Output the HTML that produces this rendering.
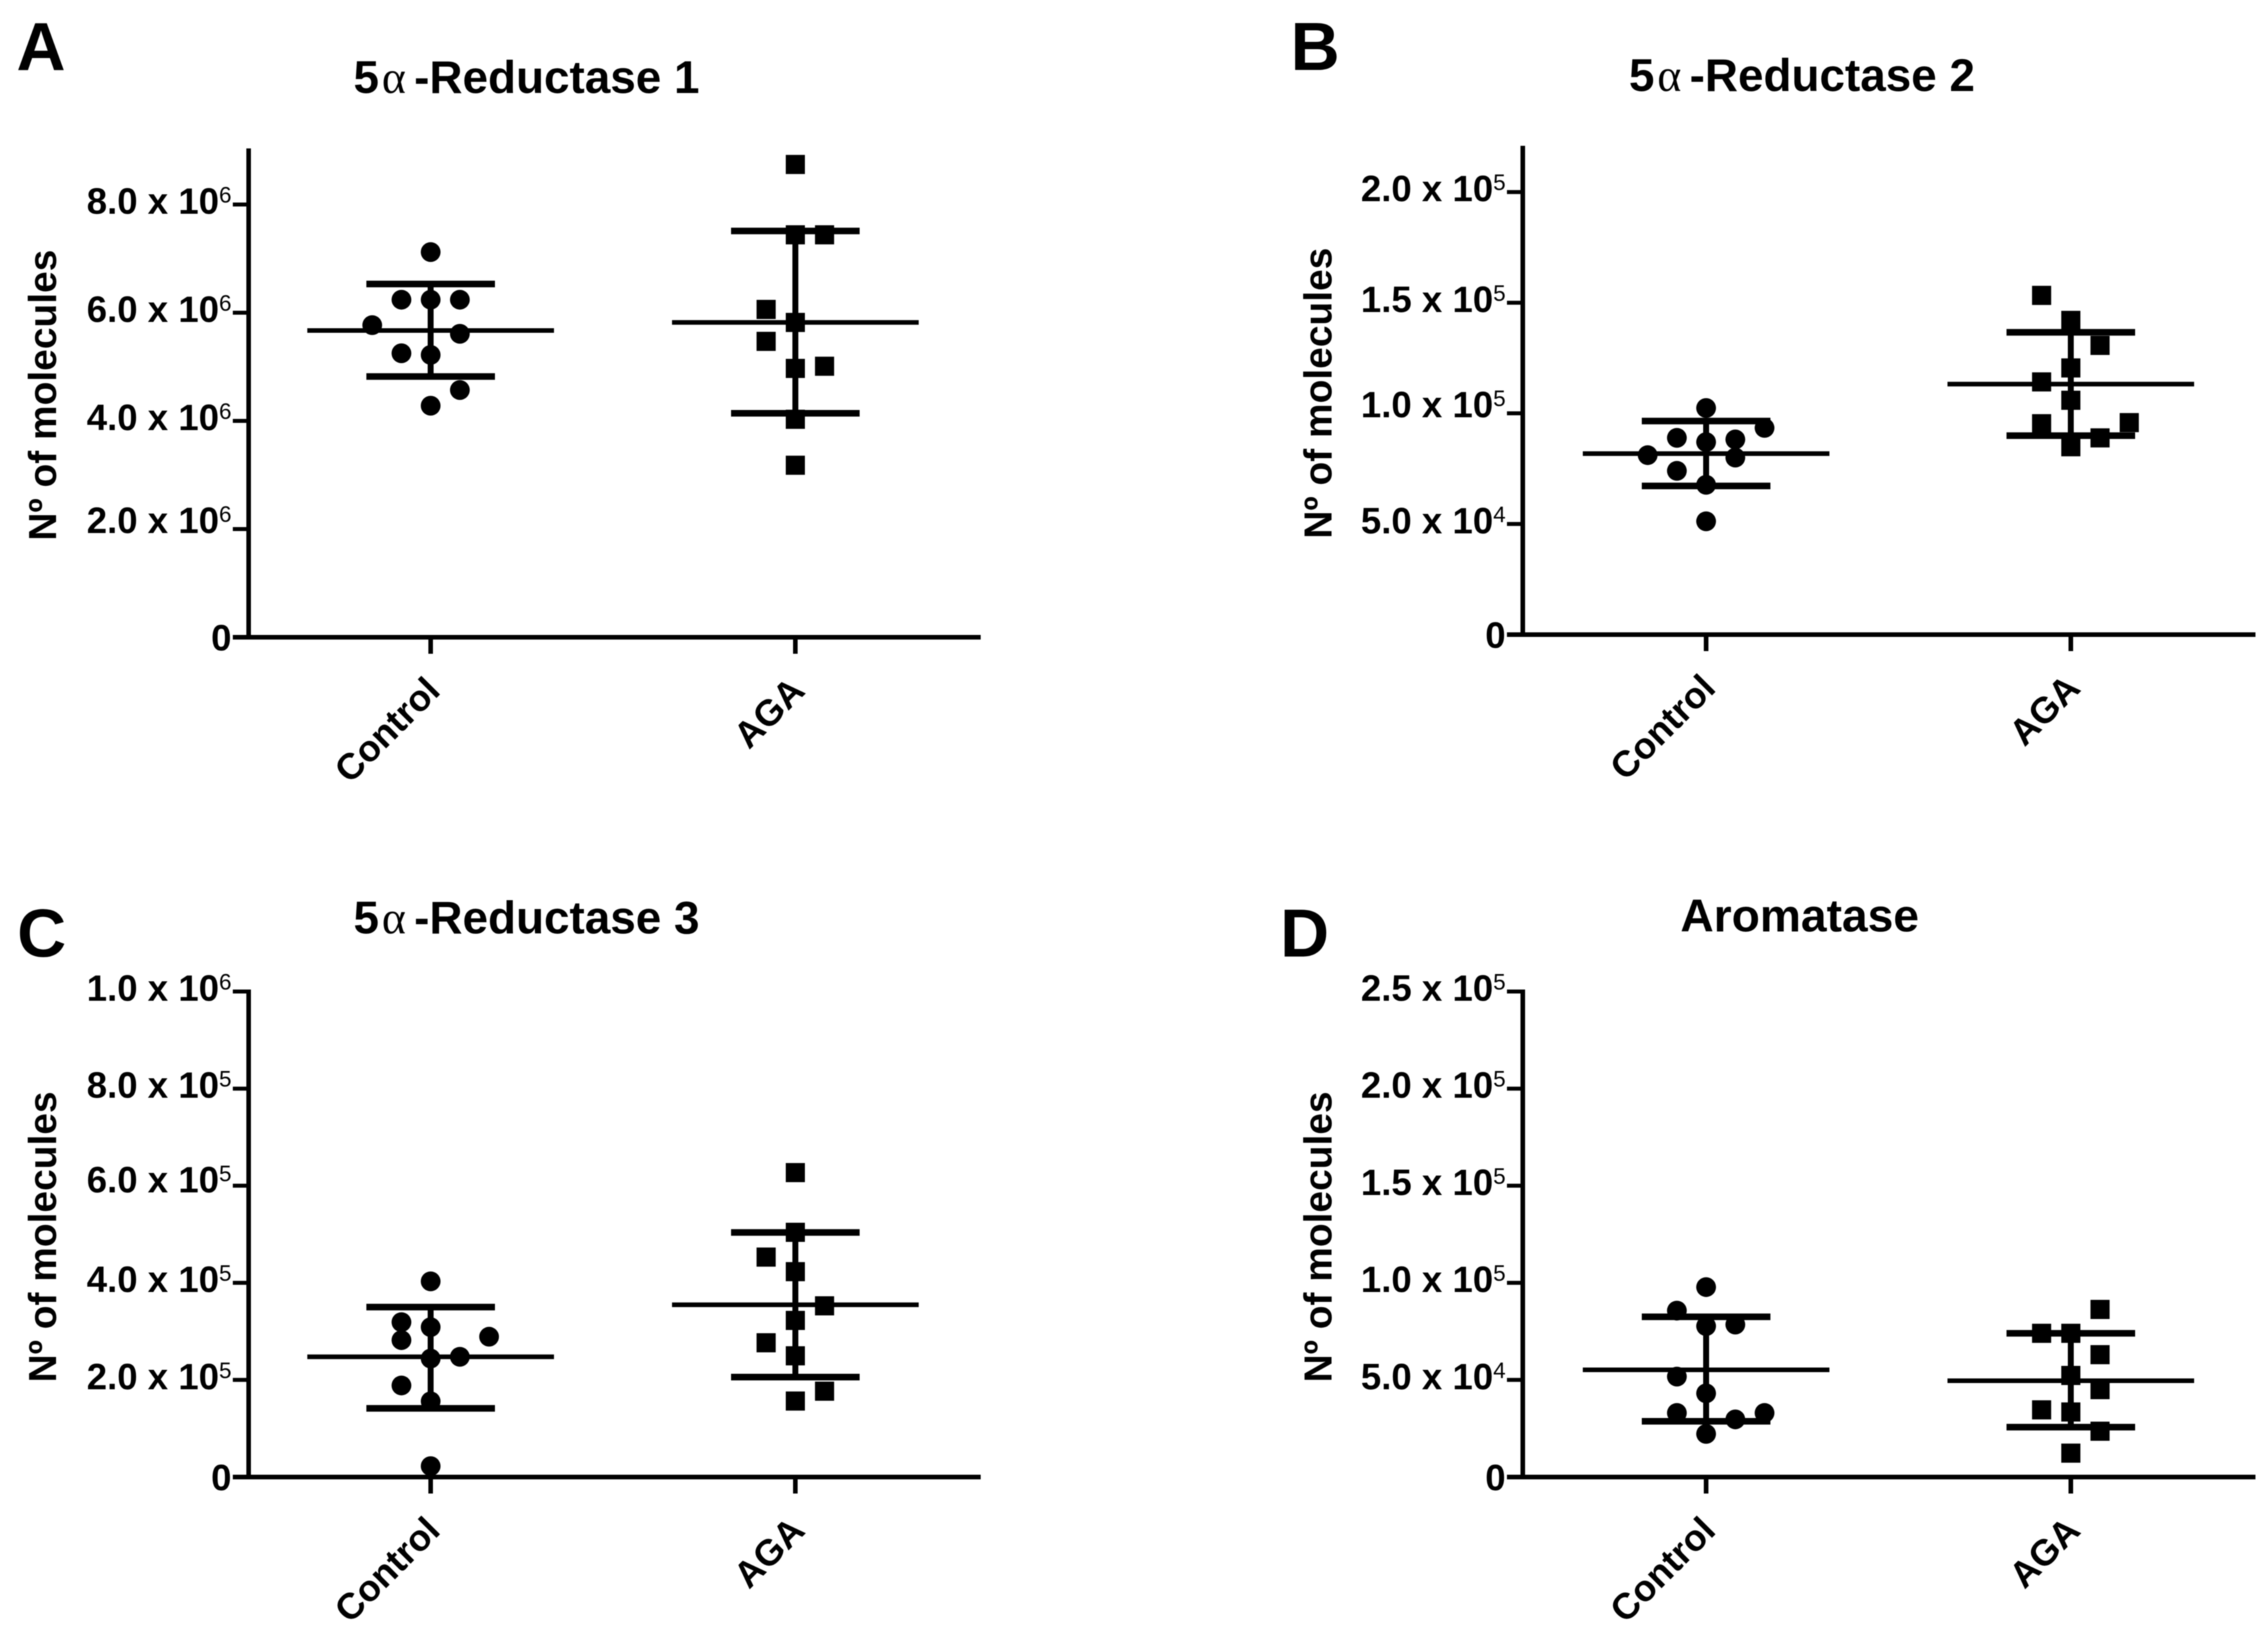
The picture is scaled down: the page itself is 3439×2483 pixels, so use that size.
<!DOCTYPE html>
<html lang="en">
<head>
<meta charset="utf-8">
<title>Enzyme molecule counts: Control vs AGA</title>
<style>
  html, body { margin: 0; padding: 0; background: #fff; }
  svg { display: block; filter: blur(0.9px); }
  text { font-family: "Liberation Sans", sans-serif; font-weight: bold; fill: #000; }
  .panel-letter { font-size: 103px; }
  .panel-title { font-size: 69.5px; }
  .alpha { font-family: "Liberation Serif", serif; font-weight: normal; }
  .y-title { font-size: 59px; }
</style>
</head>
<body>
<svg id="figure" xmlns="http://www.w3.org/2000/svg" width="3439" height="2483" viewBox="0 0 3439 2483">
  <rect width="3439" height="2483" fill="#fff"/>

  <text class="panel-letter" x="25" y="106">A</text>
  <text class="panel-letter" x="1957" y="106">B</text>
  <text class="panel-letter" x="26" y="1450">C</text>
  <text class="panel-letter" x="1941" y="1450">D</text>

  <text class="panel-title" y="141"><tspan x="536">5</tspan><tspan class="alpha" x="579">α</tspan><tspan x="628">-Reductase 1</tspan></text>
  <text class="panel-title" y="138"><tspan x="2470">5</tspan><tspan class="alpha" x="2513">α</tspan><tspan x="2562">-Reductase 2</tspan></text>
  <text class="panel-title" y="1415"><tspan x="536">5</tspan><tspan class="alpha" x="579">α</tspan><tspan x="628">-Reductase 3</tspan></text>
  <text class="panel-title" x="2548" y="1412" style="font-size:70px">Aromatase</text>

  <text class="y-title" text-anchor="middle" transform="translate(85 599) rotate(-90)">Nº of molecules</text>
  <text class="y-title" text-anchor="middle" transform="translate(2019 596) rotate(-90)">Nº of molecules</text>
  <text class="y-title" text-anchor="middle" transform="translate(85 1875) rotate(-90)">Nº of molecules</text>
  <text class="y-title" text-anchor="middle" transform="translate(2019 1875) rotate(-90)">Nº of molecules</text>
</svg>

<script>
// Shared categories
const categories = ["Control", "AGA"];

// Panel A: 5-alpha-Reductase 1
const aTicks = [0, 2e6, 4e6, 6e6, 8e6];
const aTickLabels = ["0", "2.0 x 10^6", "4.0 x 10^6", "6.0 x 10^6", "8.0 x 10^6"];
const aControlValues = [7.12e6, 6.24e6, 6.24e6, 6.24e6, 5.77e6, 5.61e6, 5.25e6, 5.22e6, 4.57e6, 4.28e6];
const aControlColumns = [0, -1, 0, 1, -2, 1, -1, 0, 1, 0];
const aControlSummary = [5.67e6, 6.53e6, 4.82e6];
const aAgaValues = [8.74e6, 7.44e6, 7.44e6, 6.06e6, 5.82e6, 5.47e6, 4.97e6, 5.01e6, 4.03e6, 3.18e6];
const aAgaColumns = [0, 0, 1, -1, 0, -1, 0, 1, 0, 0];
const aAgaSummary = [5.82e6, 7.51e6, 4.14e6];

// Panel B: 5-alpha-Reductase 2
const bTicks = [0, 5e4, 1e5, 1.5e5, 2e5];
const bTickLabels = ["0", "5.0 x 10^4", "1.0 x 10^5", "1.5 x 10^5", "2.0 x 10^5"];
const bControlValues = [102400, 93400, 88900, 88200, 87000, 81100, 80000, 74000, 67700, 51200];
const bControlColumns = [0, 2, -1, 1, 0, -2, 1, -1, 0, 0];
const bControlSummary = [81800, 96500, 67200];
const bAgaValues = [153300, 142000, 130700, 120500, 114200, 105900, 95300, 95800, 88900, 84900];
const bAgaColumns = [-1, 0, 1, 0, -1, 0, -1, 2, 1, 0];
const bAgaSummary = [113200, 136600, 89900];

// Panel C: 5-alpha-Reductase 3
const cTicks = [0, 2e5, 4e5, 6e5, 8e5, 1e6];
const cTickLabels = ["0", "2.0 x 10^5", "4.0 x 10^5", "6.0 x 10^5", "8.0 x 10^5", "1.0 x 10^6"];
const cControlValues = [403000, 319000, 308700, 282000, 289000, 247600, 244000, 188600, 156000, 22500];
const cControlColumns = [0, -1, 0, -1, 2, 1, 0, -1, 0, 0];
const cControlSummary = [247600, 350000, 141500];
const cAgaValues = [627000, 504000, 453000, 423000, 352600, 322600, 276500, 249700, 176800, 156500];
const cAgaColumns = [0, 0, -1, 0, 1, 0, -1, 0, 1, 0];
const cAgaSummary = [354800, 503800, 205800];

// Panel D: Aromatase
const dTicks = [0, 5e4, 1e5, 1.5e5, 2e5, 2.5e5];
const dTickLabels = ["0", "5.0 x 10^4", "1.0 x 10^5", "1.5 x 10^5", "2.0 x 10^5", "2.5 x 10^5"];
const dControlValues = [97800, 85700, 77700, 78500, 51700, 43100, 33000, 33000, 29700, 22200];
const dControlColumns = [0, -1, 0, 1, -1, 0, -1, 2, 1, 0];
const dControlSummary = [55200, 82500, 28700];
const dAgaValues = [86300, 74000, 74000, 63000, 52300, 45000, 34600, 33500, 23600, 12300];
const dAgaColumns = [1, -1, 0, 1, 0, 1, -1, 0, 1, 0];
const dAgaSummary = [49600, 74000, 25700];

const SVG_NS = "http://www.w3.org/2000/svg";
const figure = document.getElementById("figure");

function make(tag, attrs, parent) {
  const el = document.createElementNS(SVG_NS, tag);
  for (const k in attrs) el.setAttribute(k, attrs[k]);
  parent.appendChild(el);
  return el;
}

function drawLine(parent, name, x1, y1, x2, y2, width) {
  const line = make("line", { x1: x1, y1: y1, x2: x2, y2: y2, stroke: "#000", "stroke-width": width }, parent);
  
  
  return line;
}

function drawGroup(g, key, xPos, y, values, columns, summary, shape) {
  const cx = xPos;
  const slot = 44.3;
  const [mean, upper, lower] = summary;
  drawLine(g, key + "-mean-line", cx - 187, y(mean), cx + 187, y(mean), 7);
  drawLine(g, key + "-error-bar", cx, y(upper), cx, y(lower), 9);
  drawLine(g, key + "-upper-cap", cx - 97.5, y(upper), cx + 97.5, y(upper), 10);
  drawLine(g, key + "-lower-cap", cx - 97.5, y(lower), cx + 97.5, y(lower), 10);
  values.forEach(function (v, i) {
    const px = cx + columns[i] * slot;
    let mark;
    if (shape === "circle") {
      mark = make("circle", { cx: px, cy: y(v), r: 15, fill: "#000" }, g);
    } else {
      mark = make("rect", { x: px - 14.5, y: y(v) - 14.5, width: 29, height: 29, fill: "#000" }, g);
    }
    
    
  });
}

function drawPanel(id, geom, ticks, tickLabels, control, aga) {
  const g = make("g", {}, figure);
  
  

  const y = function (v) { return geom.baseY - (v / geom.yMax) * (geom.baseY - geom.topY); };
  const x = function (i) { return geom.firstX + i * geom.stepX; };

  drawLine(g, "y-axis-" + id, geom.axisX, geom.topY - 3, geom.axisX, geom.baseY + 3, 7);
  drawLine(g, "x-axis-" + id, geom.axisX - 24, geom.baseY, geom.axisEnd, geom.baseY, 7);

  ticks.forEach(function (t, i) {
    const ty = y(t);
    if (t !== 0) drawLine(g, "y-tick-" + id, geom.axisX - 24, ty, geom.axisX, ty, 6);
    const parts = tickLabels[i].split("^");
    const nudge = (geom.liftedTick === t) ? geom.liftPx : 0;
    const label = make("text", { x: geom.axisX - 26, y: ty + (t === 0 ? 20 : 14) - nudge, "text-anchor": "end", "font-size": 55.5 }, g);
    
    
    label.appendChild(document.createTextNode(parts[0]));
    if (parts[1]) {
      const sup = make("tspan", { dy: -17, "font-size": 34, "font-weight": "normal" }, label);
      sup.textContent = parts[1];
    }
  });

  categories.forEach(function (name, i) {
    const cx = x(i);
    drawLine(g, "x-tick-" + id, cx, geom.baseY, cx, geom.baseY + 25, 7);
    const ax = cx + 17;
    const ay = geom.baseY + 84;
    const label = make("text", { "text-anchor": "end", "font-size": 55.5, transform: "translate(" + ax + " " + ay + ") rotate(-45)" }, g);
    
    
    label.textContent = name;
  });

  drawGroup(g, id + "-control", x(0), y, control.values, control.columns, control.summary, "circle");
  drawGroup(g, id + "-aga", x(1), y, aga.values, aga.columns, aga.summary, "square");
}

drawPanel("a", { axisX: 377, axisEnd: 1487, topY: 228, baseY: 966, yMax: 9e6, firstX: 653, stepX: 553, liftedTick: 2e6, liftPx: 8 },
  aTicks, aTickLabels,
  { values: aControlValues, columns: aControlColumns, summary: aControlSummary },
  { values: aAgaValues, columns: aAgaColumns, summary: aAgaSummary });

drawPanel("b", { axisX: 2309, axisEnd: 3420, topY: 224, baseY: 962, yMax: 2.2e5, firstX: 2587, stepX: 553, liftedTick: 1e5, liftPx: 8 },
  bTicks, bTickLabels,
  { values: bControlValues, columns: bControlColumns, summary: bControlSummary },
  { values: bAgaValues, columns: bAgaColumns, summary: bAgaSummary });

drawPanel("c", { axisX: 377, axisEnd: 1487, topY: 1503, baseY: 2239, yMax: 1e6, firstX: 653, stepX: 553, liftedTick: 6e5, liftPx: 4 },
  cTicks, cTickLabels,
  { values: cControlValues, columns: cControlColumns, summary: cControlSummary },
  { values: cAgaValues, columns: cAgaColumns, summary: cAgaSummary });

drawPanel("d", { axisX: 2309, axisEnd: 3420, topY: 1503, baseY: 2239, yMax: 2.5e5, firstX: 2587, stepX: 553 },
  dTicks, dTickLabels,
  { values: dControlValues, columns: dControlColumns, summary: dControlSummary },
  { values: dAgaValues, columns: dAgaColumns, summary: dAgaSummary });
</script>
</body>
</html>
